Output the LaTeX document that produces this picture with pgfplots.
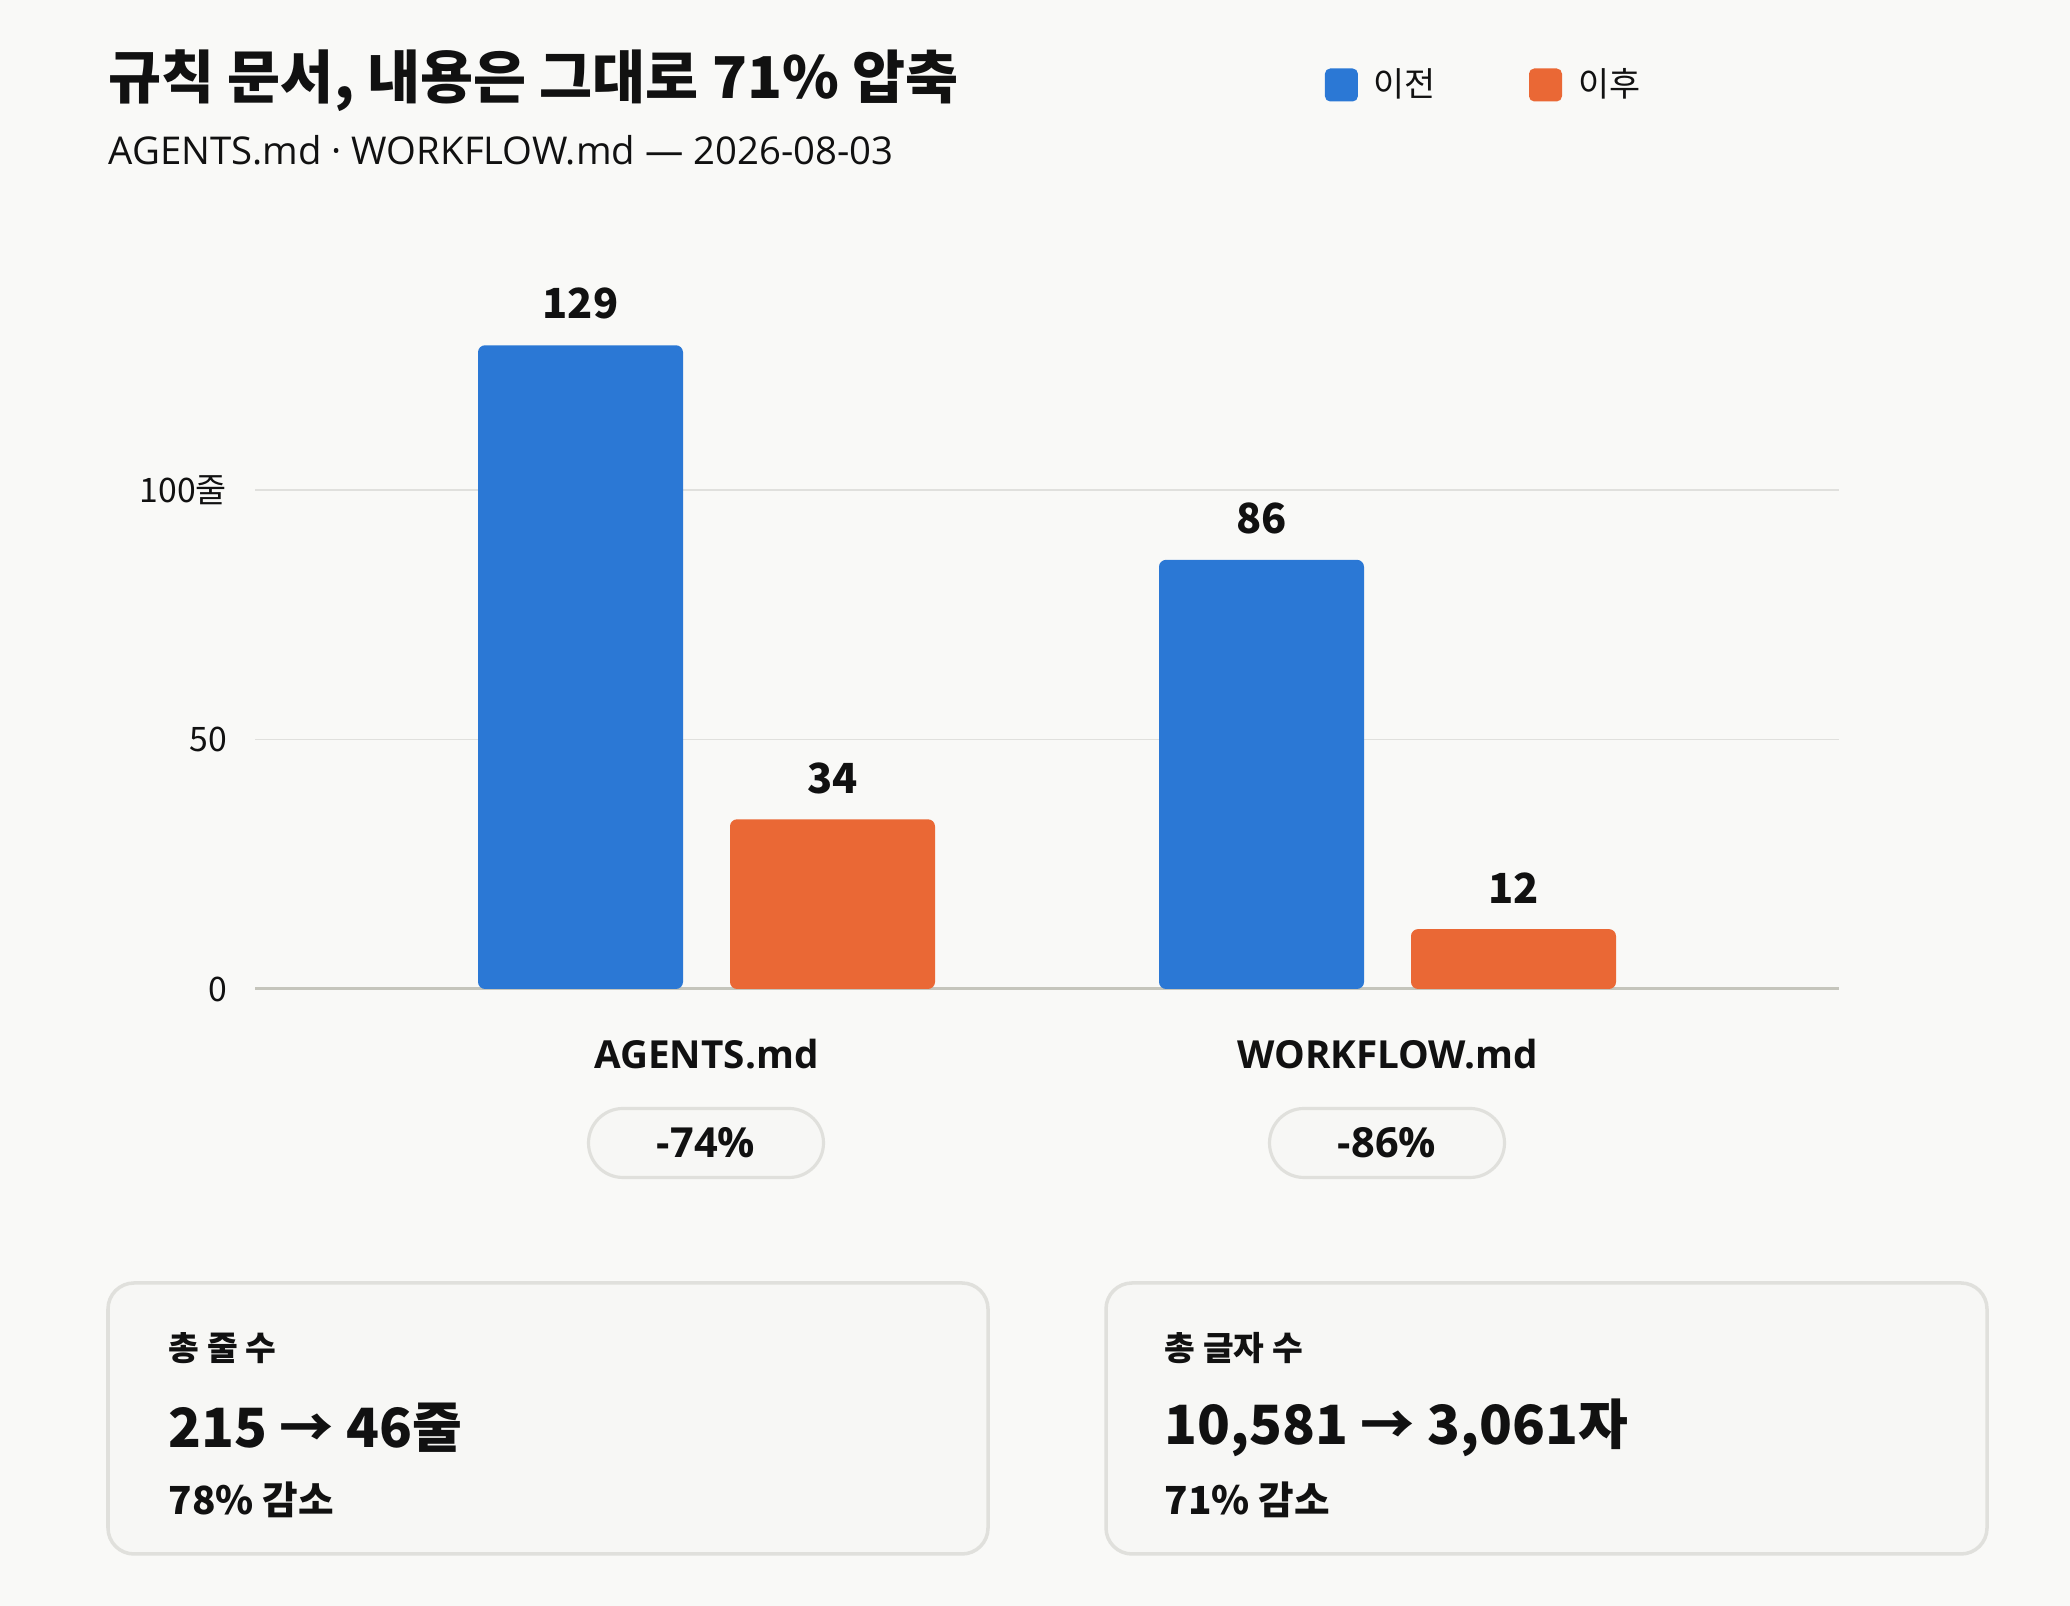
\documentclass[border=0pt]{standalone}
\usepackage{fontspec}
\setmainfont{Noto Sans CJK KR}
\newfontfamily\latin{Open Sans}
\usepackage{pgfplots}
\pgfplotsset{compat=1.18}

\definecolor{bg}{HTML}{F9F9F7}
\definecolor{txt}{HTML}{111111}
\definecolor{barblue}{HTML}{2B78D5}
\definecolor{barorange}{HTML}{EA6835}
\definecolor{gridcol}{HTML}{E0E0DD}
\definecolor{basecol}{HTML}{C5C5BC}
\definecolor{boxline}{HTML}{E0E0DC}
\definecolor{boxfill}{HTML}{F7F7F5}

\newcommand{\fs}[1]{\fontsize{#1}{#1}\selectfont}

\begin{document}
\begin{tikzpicture}[x=1cm,y=1cm]
\path[use as bounding box, fill=bg] (0,0) rectangle (20.7,16.06);

% title and subtitle
\node[anchor=west, inner sep=0pt, text=txt, font=\bfseries\fs{16.4}] at (1.08,15.25) {규칙 문서, 내용은 그대로 71\% 압축};
\node[anchor=west, inner sep=0pt, text=txt, font=\latin\fs{10.9}] at (1.08,14.56) {AGENTS.md · WORKFLOW.md — 2026-08-03};

\begin{axis}[
    at={(2.55cm,6.17cm)}, anchor=south west,
    scale only axis, width=15.84cm, height=6.986cm,
    xmin=-0.663, xmax=1.663, ymin=0, ymax=140,
    axis x line=bottom, axis y line=left,
    x axis line style={-, draw=basecol, line width=0.85pt},
    y axis line style={draw=none},
    tick style={draw=none},
    xtick={0,1}, xticklabels={AGENTS.md,WORKFLOW.md},
    ytick={0,50,100}, yticklabels={0,50,100줄},
    ymajorgrids, grid style={draw=gridcol, line width=0.55pt},
    xticklabel style={anchor=north, inner sep=0pt, yshift=-0.34cm, text=txt, font=\latin\bfseries\fs{11}},
    yticklabel style={anchor=east, inner sep=0pt, xshift=-0.2cm, text=txt, font=\fs{9.6}},
    /pgf/number format/assume math mode=true,
    ybar, bar width=2.05cm,
    nodes near coords,
    every node near coord/.append style={anchor=south, inner sep=0pt, yshift=0.25cm, text=txt, font=\bfseries\fs{11.8}},
    legend style={at={(axis description cs:0.675,1.294)}, anchor=west, draw=none, fill=none,
        inner sep=0pt, font=\fs{9.6}, text=txt, nodes={inner sep=0pt},
        /tikz/every odd column/.append style={column sep=0.16cm},
        /tikz/every even column/.append style={column sep=0.93cm}},
    legend columns=2,
    legend image code/.code={\fill[#1, rounded corners=1.5pt] (0cm,-0.165cm) rectangle (0.33cm,0.165cm);},
]
\addplot[bar shift=-1.26cm, fill=barblue, draw=none, rounded corners=2pt] coordinates {(0,129) (1,86)};
\addplot[bar shift=1.26cm, fill=barorange, draw=none, rounded corners=2pt] coordinates {(0,34) (1,12)};
\legend{이전,이후}
\end{axis}

% change badges
\foreach \cx/\lab in {7.06/-74\%, 13.87/-86\%} {
  \draw[boxline, line width=0.9pt, fill=boxfill, rounded corners=0.345cm]
    (\cx-1.175,4.285) rectangle (\cx+1.175,4.975);
  \node[inner sep=0pt, text=txt, font=\latin\bfseries\fs{11.8}] at (\cx,4.63) {\lab};
}

% summary cards
\draw[boxline, line width=1pt, fill=boxfill, rounded corners=0.26cm] (1.08,0.52) rectangle (9.88,3.23);
\draw[boxline, line width=1pt, fill=boxfill, rounded corners=0.26cm] (11.06,0.52) rectangle (19.87,3.23);

\node[anchor=west, inner sep=0pt, text=txt, font=\bfseries\fs{9.5}] at (1.68,2.58) {총 줄 수};
\node[anchor=west, inner sep=0pt, text=txt, font=\bfseries\fs{15.4}] at (1.68,1.78) {215 → 46줄};
\node[anchor=west, inner sep=0pt, text=txt, font=\bfseries\fs{11}] at (1.68,1.06) {78\% 감소};

\node[anchor=west, inner sep=0pt, text=txt, font=\bfseries\fs{9.5}] at (11.64,2.58) {총 글자 수};
\node[anchor=west, inner sep=0pt, text=txt, font=\bfseries\fs{15.4}] at (11.64,1.78) {10,581 → 3,061자};
\node[anchor=west, inner sep=0pt, text=txt, font=\bfseries\fs{11}] at (11.64,1.06) {71\% 감소};
\end{tikzpicture}
\end{document}
